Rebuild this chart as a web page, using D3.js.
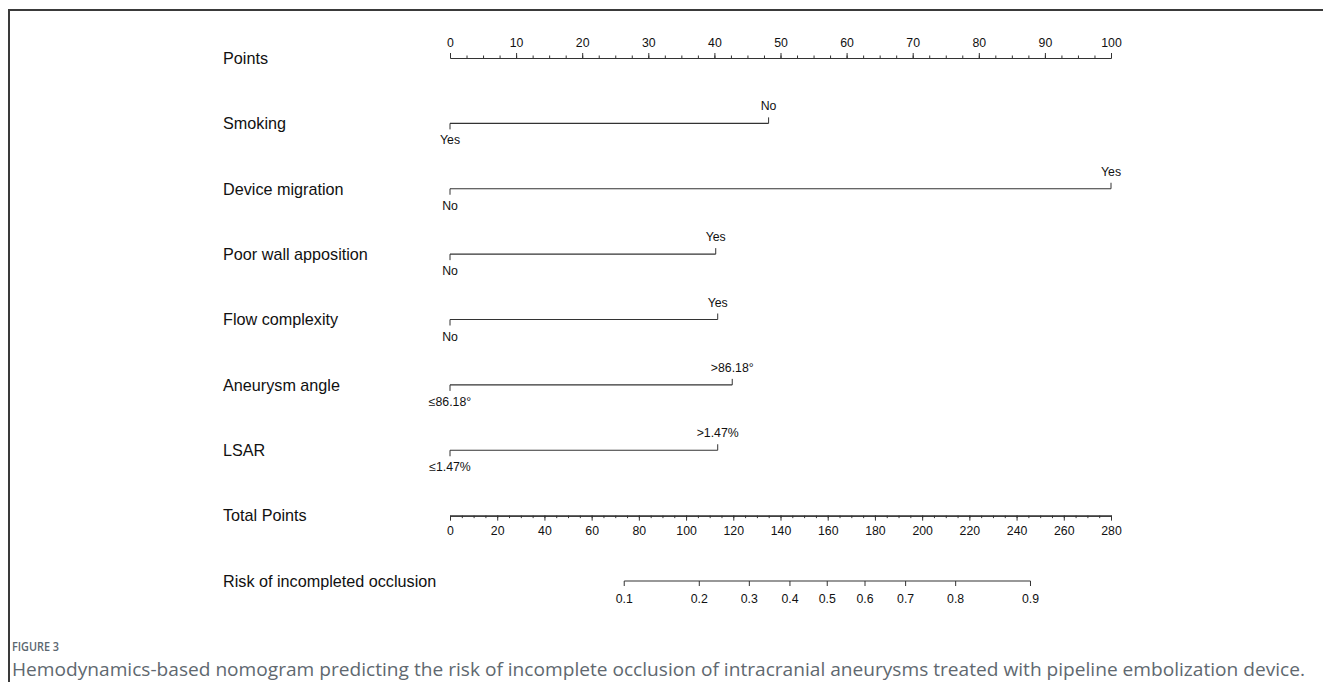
<!DOCTYPE html>
<html>
<head>
<meta charset="utf-8">
<script src="https://cdn.jsdelivr.net/npm/d3@7"></script>
<style>
  body { margin: 0; background: #fff; }
  svg { display: block; }
</style>
</head>
<body>
<div id="container"></div>
<script>
let w = 1323;
let h = 682;

// DATA
let rowLabels = ["Points", "Smoking", "Device migration", "Poor wall apposition", "Flow complexity",
                 "Aneurysm angle", "LSAR", "Total Points", "Risk of incompleted occlusion"];

// categorical predictors: [low level, high level] and points for the high level
let varNames = ["Smoking", "Device migration", "Poor wall apposition", "Flow complexity", "Aneurysm angle", "LSAR"];
let varLeftLevel = ["Yes", "No", "No", "No", "≤86.18°", "≤1.47%"];
let varRightLevel = ["No", "Yes", "Yes", "Yes", ">86.18°", ">1.47%"];
let varPoints = [48.2, 100, 40.2, 40.5, 42.7, 40.5];

let pointsTicks = [0, 10, 20, 30, 40, 50, 60, 70, 80, 90, 100];
let totalTicks = [0, 20, 40, 60, 80, 100, 120, 140, 160, 180, 200, 220, 240, 260, 280];
let riskTicks = [0.1, 0.2, 0.3, 0.4, 0.5, 0.6, 0.7, 0.8, 0.9];
// total points where each risk value sits
let riskAtPoints = [73.8, 105.6, 126.8, 144.0, 159.8, 175.8, 193.0, 214.2, 245.9];

let caption = "Hemodynamics-based nomogram predicting the risk of incomplete occlusion of intracranial aneurysms treated with pipeline embolization device.";

// SVG
let viz = d3.select("#container").append("svg")
    .attr("width", w)
    .attr("height", h)
    .style("background-color", "white");

let ink = "#333";
let font = "'Liberation Sans', Arial, sans-serif";
let tickFont = 12.3;

// frame (top + left)
viz.append("path")
  .attr("d", "M9," + h + "V10H" + w)
  .attr("fill", "none")
  .attr("stroke", "#3a3a3a")
  .attr("stroke-width", 2);

// SCALES
let xPoints = d3.scaleLinear().domain([0, 100]).range([450, 1111]);
let xTotal = d3.scaleLinear().domain([0, 280]).range([450, 1111]);
let yRow = d3.scalePoint().domain(rowLabels).range([58, 581]);

// row labels
viz.selectAll(".rowlabel").data(rowLabels).enter()
  .append("text")
    .attr("class", "rowlabel")
    .attr("x", 223)
    .attr("y", function(d){ return yRow(d); })
    .attr("dy", "0.36em")
    .attr("font-family", font)
    .attr("font-size", 16.2)
    .attr("fill", "#111")
    .text(function(d){ return d; });

function styleAxis(g){
  g.select(".domain").attr("stroke", ink).attr("stroke-width", 1.1);
  g.selectAll(".tick line").attr("stroke", ink);
  g.selectAll(".tick text").attr("font-family", font).attr("font-size", tickFont).attr("fill", "#111");
}

// Points axis (ticks up)
let ptsMinor = d3.range(0, 100.01, 2.5);
viz.append("g")
  .attr("transform", "translate(0," + yRow("Points") + ")")
  .call(d3.axisTop(xPoints).tickValues(ptsMinor).tickSize(2.5).tickSizeOuter(0).tickFormat(""))
  .call(styleAxis);
viz.append("g")
  .attr("transform", "translate(0," + yRow("Points") + ")")
  .call(d3.axisTop(xPoints).tickValues(pointsTicks).tickSize(5).tickSizeOuter(0).tickPadding(6).tickFormat(d3.format("d")))
  .call(styleAxis);

// predictors
varNames.forEach(function(name, i){
  let y = yRow(name);
  let x0 = xPoints(0);
  let x1 = xPoints(varPoints[i]);
  let g = viz.append("g");
  g.append("line").attr("x1", x0).attr("x2", x1).attr("y1", y).attr("y2", y)
    .attr("stroke", ink).attr("stroke-width", 1.1);
  g.append("line").attr("x1", x0).attr("x2", x0).attr("y1", y).attr("y2", y + 6)
    .attr("stroke", ink);
  g.append("line").attr("x1", x1).attr("x2", x1).attr("y1", y).attr("y2", y - 6)
    .attr("stroke", ink);
  g.append("text").attr("x", x0).attr("y", y + 21)
    .attr("text-anchor", "middle").attr("font-family", font).attr("font-size", tickFont).attr("fill", "#111")
    .text(varLeftLevel[i]);
  g.append("text").attr("x", x1).attr("y", y - 13)
    .attr("text-anchor", "middle").attr("font-family", font).attr("font-size", tickFont).attr("fill", "#111")
    .text(varRightLevel[i]);
});

// Total points axis (ticks down)
viz.append("g")
  .attr("transform", "translate(0," + yRow("Total Points") + ")")
  .call(d3.axisBottom(xTotal).tickValues(d3.range(0, 280.01, 5)).tickSize(2.5).tickSizeOuter(0).tickFormat(""))
  .call(styleAxis);
viz.append("g")
  .attr("transform", "translate(0," + yRow("Total Points") + ")")
  .call(d3.axisBottom(xTotal).tickValues(totalTicks).tickSize(5).tickSizeOuter(0).tickPadding(6).tickFormat(d3.format("d")))
  .call(styleAxis);

// Risk axis
let xRisk = d3.scaleLinear().domain(riskAtPoints).range(riskAtPoints.map(function(p){ return xTotal(p); }));
let riskG = viz.append("g")
  .attr("transform", "translate(0," + yRow("Risk of incompleted occlusion") + ")");
riskG.append("line")
  .attr("x1", xTotal(riskAtPoints[0])).attr("x2", xTotal(riskAtPoints[riskAtPoints.length - 1]))
  .attr("stroke", ink).attr("stroke-width", 1.1);
riskG.selectAll(".rtick").data(riskTicks).enter()
  .append("line")
    .attr("x1", function(d, i){ return xRisk(riskAtPoints[i]); })
    .attr("x2", function(d, i){ return xRisk(riskAtPoints[i]); })
    .attr("y1", 0).attr("y2", 5)
    .attr("stroke", ink);
riskG.selectAll(".rlabel").data(riskTicks).enter()
  .append("text")
    .attr("x", function(d, i){ return xRisk(riskAtPoints[i]); })
    .attr("y", 22)
    .attr("text-anchor", "middle")
    .attr("font-family", font).attr("font-size", tickFont).attr("fill", "#111")
    .text(function(d){ return d3.format(".1f")(d); });

// caption
viz.append("text")
  .attr("x", 12).attr("y", 651)
  .attr("font-family", "'Open Sans', 'Noto Sans', sans-serif")
  .attr("font-size", 13).attr("font-weight", 600)
  .attr("fill", "#5b6770")
  .attr("textLength", 47)
  .attr("lengthAdjust", "spacingAndGlyphs")
  .text("FIGURE 3");
viz.append("text")
  .attr("x", 12).attr("y", 676)
  .attr("font-family", "'Open Sans', 'Noto Sans', sans-serif")
  .attr("font-size", 17.5)
  .attr("fill", "#60686f")
  .attr("textLength", 1293)
  .attr("lengthAdjust", "spacingAndGlyphs")
  .text(caption);
</script>
</body>
</html>
